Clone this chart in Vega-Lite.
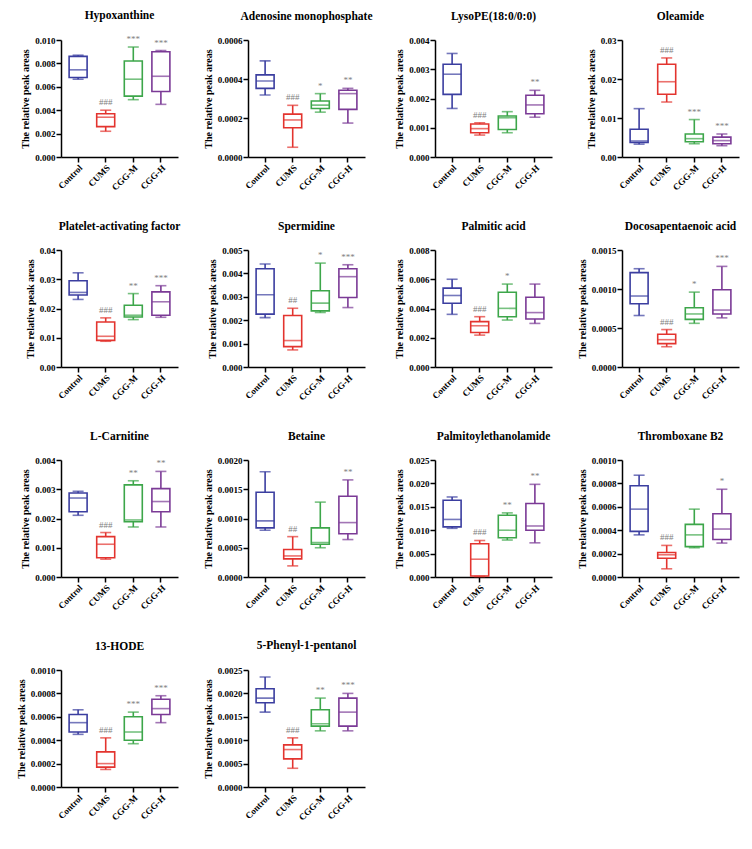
{
  "$schema": "https://vega.github.io/schema/vega-lite/v6.json",
  "padding": {"left": 16, "top": 9, "right": 5, "bottom": 5},
  "datasets": {
    "box": [
      {"m": "Hypoxanthine", "g": "Control", "min": 0.00665, "q1": 0.0068, "med": 0.00745, "q3": 0.0086, "max": 0.0087, "sig": ""},
      {"m": "Hypoxanthine", "g": "CUMS", "min": 0.0022, "q1": 0.0026, "med": 0.0034, "q3": 0.0037, "max": 0.004, "sig": "###"},
      {"m": "Hypoxanthine", "g": "CGG-M", "min": 0.0049, "q1": 0.0052, "med": 0.00665, "q3": 0.0082, "max": 0.0094, "sig": "***"},
      {"m": "Hypoxanthine", "g": "CGG-H", "min": 0.0045, "q1": 0.0056, "med": 0.0069, "q3": 0.009, "max": 0.0091, "sig": "***"},

      {"m": "Adenosine monophosphate", "g": "Control", "min": 0.000318, "q1": 0.000352, "med": 0.00039, "q3": 0.000421, "max": 0.000493, "sig": ""},
      {"m": "Adenosine monophosphate", "g": "CUMS", "min": 0.00005, "q1": 0.00015, "med": 0.00019, "q3": 0.00022, "max": 0.000265, "sig": "###"},
      {"m": "Adenosine monophosphate", "g": "CGG-M", "min": 0.00023, "q1": 0.000249, "med": 0.000266, "q3": 0.000287, "max": 0.000325, "sig": "*"},
      {"m": "Adenosine monophosphate", "g": "CGG-H", "min": 0.000174, "q1": 0.000244, "med": 0.000325, "q3": 0.000342, "max": 0.000352, "sig": "**"},

      {"m": "LysoPE(18:0/0:0)", "g": "Control", "min": 0.00166, "q1": 0.00214, "med": 0.00283, "q3": 0.00317, "max": 0.00354, "sig": ""},
      {"m": "LysoPE(18:0/0:0)", "g": "CUMS", "min": 0.00075, "q1": 0.00083, "med": 0.00097, "q3": 0.00113, "max": 0.00117, "sig": "###"},
      {"m": "LysoPE(18:0/0:0)", "g": "CGG-M", "min": 0.00083, "q1": 0.00094, "med": 0.00134, "q3": 0.0014, "max": 0.00155, "sig": ""},
      {"m": "LysoPE(18:0/0:0)", "g": "CGG-H", "min": 0.00136, "q1": 0.00148, "med": 0.00178, "q3": 0.00211, "max": 0.00228, "sig": "**"},

      {"m": "Oleamide", "g": "Control", "min": 0.0033, "q1": 0.0037, "med": 0.0041, "q3": 0.0071, "max": 0.0124, "sig": ""},
      {"m": "Oleamide", "g": "CUMS", "min": 0.0141, "q1": 0.0161, "med": 0.0193, "q3": 0.0238, "max": 0.0254, "sig": "###"},
      {"m": "Oleamide", "g": "CGG-M", "min": 0.0034, "q1": 0.0039, "med": 0.0047, "q3": 0.0059, "max": 0.0096, "sig": "***"},
      {"m": "Oleamide", "g": "CGG-H", "min": 0.0029, "q1": 0.0034, "med": 0.0042, "q3": 0.0051, "max": 0.0059, "sig": "***"},

      {"m": "Platelet-activating factor", "g": "Control", "min": 0.0231, "q1": 0.0246, "med": 0.0255, "q3": 0.0295, "max": 0.0322, "sig": ""},
      {"m": "Platelet-activating factor", "g": "CUMS", "min": 0.0088, "q1": 0.0091, "med": 0.0105, "q3": 0.0154, "max": 0.0168, "sig": "###"},
      {"m": "Platelet-activating factor", "g": "CGG-M", "min": 0.0162, "q1": 0.0171, "med": 0.0177, "q3": 0.0211, "max": 0.0251, "sig": "**"},
      {"m": "Platelet-activating factor", "g": "CGG-H", "min": 0.017, "q1": 0.0177, "med": 0.0223, "q3": 0.0257, "max": 0.0278, "sig": "***"},

      {"m": "Spermidine", "g": "Control", "min": 0.00211, "q1": 0.00226, "med": 0.00309, "q3": 0.0042, "max": 0.0044, "sig": ""},
      {"m": "Spermidine", "g": "CUMS", "min": 0.00073, "q1": 0.00087, "med": 0.00113, "q3": 0.0022, "max": 0.00251, "sig": "##"},
      {"m": "Spermidine", "g": "CGG-M", "min": 0.00233, "q1": 0.0024, "med": 0.00273, "q3": 0.00326, "max": 0.00444, "sig": "*"},
      {"m": "Spermidine", "g": "CGG-H", "min": 0.00254, "q1": 0.00297, "med": 0.00386, "q3": 0.0042, "max": 0.00437, "sig": "***"},

      {"m": "Palmitic acid", "g": "Control", "min": 0.0036, "q1": 0.00436, "med": 0.00489, "q3": 0.00539, "max": 0.006, "sig": ""},
      {"m": "Palmitic acid", "g": "CUMS", "min": 0.00218, "q1": 0.00236, "med": 0.00282, "q3": 0.0031, "max": 0.00344, "sig": "###"},
      {"m": "Palmitic acid", "g": "CGG-M", "min": 0.00321, "q1": 0.00344, "med": 0.00401, "q3": 0.00511, "max": 0.00567, "sig": "*"},
      {"m": "Palmitic acid", "g": "CGG-H", "min": 0.00298, "q1": 0.00328, "med": 0.00372, "q3": 0.00477, "max": 0.00567, "sig": ""},

      {"m": "Docosapentaenoic acid", "g": "Control", "min": 0.00066, "q1": 0.00081, "med": 0.00091, "q3": 0.00121, "max": 0.00126, "sig": ""},
      {"m": "Docosapentaenoic acid", "g": "CUMS", "min": 0.00026, "q1": 0.0003, "med": 0.00035, "q3": 0.00042, "max": 0.00048, "sig": "###"},
      {"m": "Docosapentaenoic acid", "g": "CGG-M", "min": 0.00056, "q1": 0.00061, "med": 0.00068, "q3": 0.00076, "max": 0.00096, "sig": "*"},
      {"m": "Docosapentaenoic acid", "g": "CGG-H", "min": 0.00063, "q1": 0.00068, "med": 0.00073, "q3": 0.00099, "max": 0.00129, "sig": "***"},

      {"m": "L-Carnitine", "g": "Control", "min": 0.00211, "q1": 0.00223, "med": 0.0027, "q3": 0.00287, "max": 0.00293, "sig": ""},
      {"m": "L-Carnitine", "g": "CUMS", "min": 0.00061, "q1": 0.00066, "med": 0.00112, "q3": 0.00138, "max": 0.00152, "sig": "###"},
      {"m": "L-Carnitine", "g": "CGG-M", "min": 0.00171, "q1": 0.00189, "med": 0.00195, "q3": 0.00315, "max": 0.00329, "sig": "**"},
      {"m": "L-Carnitine", "g": "CGG-H", "min": 0.00171, "q1": 0.00223, "med": 0.00258, "q3": 0.00302, "max": 0.00361, "sig": "**"},

      {"m": "Betaine", "g": "Control", "min": 0.0008, "q1": 0.00084, "med": 0.00096, "q3": 0.00145, "max": 0.0018, "sig": ""},
      {"m": "Betaine", "g": "CUMS", "min": 0.00019, "q1": 0.00031, "med": 0.00036, "q3": 0.00047, "max": 0.00069, "sig": "##"},
      {"m": "Betaine", "g": "CGG-M", "min": 0.0005, "q1": 0.00056, "med": 0.00059, "q3": 0.00084, "max": 0.00128, "sig": ""},
      {"m": "Betaine", "g": "CGG-H", "min": 0.00064, "q1": 0.00074, "med": 0.00093, "q3": 0.00138, "max": 0.00166, "sig": "**"},

      {"m": "Palmitoylethanolamide", "g": "Control", "min": 0.0104, "q1": 0.0107, "med": 0.0123, "q3": 0.0164, "max": 0.0171, "sig": ""},
      {"m": "Palmitoylethanolamide", "g": "CUMS", "min": 0.0001, "q1": 0.0002, "med": 0.0038, "q3": 0.0071, "max": 0.0078, "sig": "###"},
      {"m": "Palmitoylethanolamide", "g": "CGG-M", "min": 0.0079, "q1": 0.0084, "med": 0.01, "q3": 0.0132, "max": 0.0137, "sig": "**"},
      {"m": "Palmitoylethanolamide", "g": "CGG-H", "min": 0.0073, "q1": 0.01, "med": 0.0109, "q3": 0.0157, "max": 0.0198, "sig": "**"},

      {"m": "Thromboxane B2", "g": "Control", "min": 0.00036, "q1": 0.00039, "med": 0.00058, "q3": 0.00078, "max": 0.00087, "sig": ""},
      {"m": "Thromboxane B2", "g": "CUMS", "min": 0.00007, "q1": 0.00016, "med": 0.00019, "q3": 0.00021, "max": 0.00027, "sig": "###"},
      {"m": "Thromboxane B2", "g": "CGG-M", "min": 0.00025, "q1": 0.00026, "med": 0.00036, "q3": 0.00045, "max": 0.00058, "sig": ""},
      {"m": "Thromboxane B2", "g": "CGG-H", "min": 0.00029, "q1": 0.00032, "med": 0.00041, "q3": 0.00054, "max": 0.00075, "sig": "*"},

      {"m": "13-HODE", "g": "Control", "min": 0.00045, "q1": 0.00047, "med": 0.00055, "q3": 0.00062, "max": 0.00066, "sig": ""},
      {"m": "13-HODE", "g": "CUMS", "min": 0.00015, "q1": 0.00017, "med": 0.0002, "q3": 0.0003, "max": 0.00042, "sig": "###"},
      {"m": "13-HODE", "g": "CGG-M", "min": 0.00037, "q1": 0.0004, "med": 0.00047, "q3": 0.0006, "max": 0.00064, "sig": "***"},
      {"m": "13-HODE", "g": "CGG-H", "min": 0.00055, "q1": 0.00062, "med": 0.00067, "q3": 0.00075, "max": 0.00078, "sig": "***"},

      {"m": "5-Phenyl-1-pentanol", "g": "Control", "min": 0.0016, "q1": 0.0018, "med": 0.0019, "q3": 0.0021, "max": 0.00235, "sig": ""},
      {"m": "5-Phenyl-1-pentanol", "g": "CUMS", "min": 0.0004, "q1": 0.0006, "med": 0.0008, "q3": 0.0009, "max": 0.00105, "sig": "###"},
      {"m": "5-Phenyl-1-pentanol", "g": "CGG-M", "min": 0.0012, "q1": 0.0013, "med": 0.00135, "q3": 0.00165, "max": 0.0019, "sig": "**"},
      {"m": "5-Phenyl-1-pentanol", "g": "CGG-H", "min": 0.0012, "q1": 0.0013, "med": 0.0016, "q3": 0.0019, "max": 0.002, "sig": "***"}
    ]
  },
  "data": {"name": "box"},
  "columns": 4,
  "bounds": "flush",
  "spacing": {"row": 93, "column": 70},
  "config": {
    "font": "Liberation Serif",
    "view": {"stroke": null},
    "range": {"category": ["#7b3a96", "#3da64a", "#e3342f", "#3b3ea0"]},
    "axis": {"grid": false, "labelOverlap": false, "labelFlush": false, "domainColor": "black", "domainWidth": 1.5, "tickColor": "black", "tickWidth": 1.5, "tickSize": 5, "labelFont": "Liberation Serif", "labelFontWeight": "bold", "labelFontSize": 9, "labelColor": "black", "labelPadding": 1, "titleFont": "Liberation Serif", "titleFontWeight": "bold", "titleFontSize": 10, "titleColor": "black", "titlePadding": 4},
    "title": {"font": "Liberation Serif", "fontSize": 11.5, "fontWeight": "bold", "anchor": "middle", "offset": 14, "color": "black"}
  },
  "concat": [
    {"title": "Hypoxanthine", "width": 117, "height": 117,
     "transform": [{"filter": "datum.m === 'Hypoxanthine'"}],
     "encoding": {"x": {"field": "g", "type": "nominal", "sort": ["Control", "CUMS", "CGG-M", "CGG-H"], "scale": {"paddingInner": 0.5, "paddingOuter": 0.37}, "axis": {"title": null, "labelAngle": -45}}},
     "layer": [
      {"mark": {"type": "rule", "strokeWidth": 1.6}, "encoding": {"y": {"field": "min", "type": "quantitative", "scale": {"domain": [0, 0.01], "nice": false}, "axis": {"values": [0, 0.002, 0.004, 0.006, 0.008, 0.01], "tickCount": 20, "labelOverlap": false, "format": ".3f"}, "title": "The relative peak areas"}, "y2": {"field": "max"}, "color": {"field": "g", "type": "nominal", "legend": null}}},
      {"mark": {"type": "bar", "fill": "white", "strokeWidth": 1.6, "size": 18}, "encoding": {"y": {"field": "q1", "type": "quantitative", "title": "The relative peak areas"}, "y2": {"field": "q3"}, "stroke": {"field": "g", "type": "nominal", "legend": null}}},
      {"mark": {"type": "tick", "size": 18, "thickness": 1.6}, "encoding": {"y": {"field": "med", "type": "quantitative", "title": "The relative peak areas"}, "color": {"field": "g", "type": "nominal", "legend": null}}},
      {"mark": {"type": "tick", "size": 11, "thickness": 1.6}, "encoding": {"y": {"field": "min", "type": "quantitative", "title": "The relative peak areas"}, "color": {"field": "g", "type": "nominal", "legend": null}}},
      {"mark": {"type": "tick", "size": 11, "thickness": 1.6}, "encoding": {"y": {"field": "max", "type": "quantitative", "title": "The relative peak areas"}, "color": {"field": "g", "type": "nominal", "legend": null}}},
      {"mark": {"type": "text", "baseline": "bottom", "dy": -3, "fontSize": 9, "color": "#808080"}, "encoding": {"y": {"field": "max", "type": "quantitative", "title": "The relative peak areas"}, "text": {"field": "sig"}}}
     ]},
    {"title": "Adenosine monophosphate", "width": 117, "height": 117,
     "transform": [{"filter": "datum.m === 'Adenosine monophosphate'"}],
     "encoding": {"x": {"field": "g", "type": "nominal", "sort": ["Control", "CUMS", "CGG-M", "CGG-H"], "scale": {"paddingInner": 0.5, "paddingOuter": 0.37}, "axis": {"title": null, "labelAngle": -45}}},
     "layer": [
      {"mark": {"type": "rule", "strokeWidth": 1.6}, "encoding": {"y": {"field": "min", "type": "quantitative", "scale": {"domain": [0, 0.0006], "nice": false}, "axis": {"values": [0, 0.0002, 0.0004, 0.0006], "tickCount": 20, "labelOverlap": false, "format": ".4f"}, "title": "The relative peak areas"}, "y2": {"field": "max"}, "color": {"field": "g", "type": "nominal", "legend": null}}},
      {"mark": {"type": "bar", "fill": "white", "strokeWidth": 1.6, "size": 18}, "encoding": {"y": {"field": "q1", "type": "quantitative", "title": "The relative peak areas"}, "y2": {"field": "q3"}, "stroke": {"field": "g", "type": "nominal", "legend": null}}},
      {"mark": {"type": "tick", "size": 18, "thickness": 1.6}, "encoding": {"y": {"field": "med", "type": "quantitative", "title": "The relative peak areas"}, "color": {"field": "g", "type": "nominal", "legend": null}}},
      {"mark": {"type": "tick", "size": 11, "thickness": 1.6}, "encoding": {"y": {"field": "min", "type": "quantitative", "title": "The relative peak areas"}, "color": {"field": "g", "type": "nominal", "legend": null}}},
      {"mark": {"type": "tick", "size": 11, "thickness": 1.6}, "encoding": {"y": {"field": "max", "type": "quantitative", "title": "The relative peak areas"}, "color": {"field": "g", "type": "nominal", "legend": null}}},
      {"mark": {"type": "text", "baseline": "bottom", "dy": -3, "fontSize": 9, "color": "#808080"}, "encoding": {"y": {"field": "max", "type": "quantitative", "title": "The relative peak areas"}, "text": {"field": "sig"}}}
     ]},
    {"title": "LysoPE(18:0/0:0)", "width": 117, "height": 117,
     "transform": [{"filter": "datum.m === 'LysoPE(18:0/0:0)'"}],
     "encoding": {"x": {"field": "g", "type": "nominal", "sort": ["Control", "CUMS", "CGG-M", "CGG-H"], "scale": {"paddingInner": 0.5, "paddingOuter": 0.37}, "axis": {"title": null, "labelAngle": -45}}},
     "layer": [
      {"mark": {"type": "rule", "strokeWidth": 1.6}, "encoding": {"y": {"field": "min", "type": "quantitative", "scale": {"domain": [0, 0.004], "nice": false}, "axis": {"values": [0, 0.001, 0.002, 0.003, 0.004], "tickCount": 20, "labelOverlap": false, "format": ".3f"}, "title": "The relative peak areas"}, "y2": {"field": "max"}, "color": {"field": "g", "type": "nominal", "legend": null}}},
      {"mark": {"type": "bar", "fill": "white", "strokeWidth": 1.6, "size": 18}, "encoding": {"y": {"field": "q1", "type": "quantitative", "title": "The relative peak areas"}, "y2": {"field": "q3"}, "stroke": {"field": "g", "type": "nominal", "legend": null}}},
      {"mark": {"type": "tick", "size": 18, "thickness": 1.6}, "encoding": {"y": {"field": "med", "type": "quantitative", "title": "The relative peak areas"}, "color": {"field": "g", "type": "nominal", "legend": null}}},
      {"mark": {"type": "tick", "size": 11, "thickness": 1.6}, "encoding": {"y": {"field": "min", "type": "quantitative", "title": "The relative peak areas"}, "color": {"field": "g", "type": "nominal", "legend": null}}},
      {"mark": {"type": "tick", "size": 11, "thickness": 1.6}, "encoding": {"y": {"field": "max", "type": "quantitative", "title": "The relative peak areas"}, "color": {"field": "g", "type": "nominal", "legend": null}}},
      {"mark": {"type": "text", "baseline": "bottom", "dy": -3, "fontSize": 9, "color": "#808080"}, "encoding": {"y": {"field": "max", "type": "quantitative", "title": "The relative peak areas"}, "text": {"field": "sig"}}}
     ]},
    {"title": "Oleamide", "width": 117, "height": 117,
     "transform": [{"filter": "datum.m === 'Oleamide'"}],
     "encoding": {"x": {"field": "g", "type": "nominal", "sort": ["Control", "CUMS", "CGG-M", "CGG-H"], "scale": {"paddingInner": 0.5, "paddingOuter": 0.37}, "axis": {"title": null, "labelAngle": -45}}},
     "layer": [
      {"mark": {"type": "rule", "strokeWidth": 1.6}, "encoding": {"y": {"field": "min", "type": "quantitative", "scale": {"domain": [0, 0.03], "nice": false}, "axis": {"values": [0, 0.01, 0.02, 0.03], "tickCount": 20, "labelOverlap": false, "format": ".2f"}, "title": "The relative peak areas"}, "y2": {"field": "max"}, "color": {"field": "g", "type": "nominal", "legend": null}}},
      {"mark": {"type": "bar", "fill": "white", "strokeWidth": 1.6, "size": 18}, "encoding": {"y": {"field": "q1", "type": "quantitative", "title": "The relative peak areas"}, "y2": {"field": "q3"}, "stroke": {"field": "g", "type": "nominal", "legend": null}}},
      {"mark": {"type": "tick", "size": 18, "thickness": 1.6}, "encoding": {"y": {"field": "med", "type": "quantitative", "title": "The relative peak areas"}, "color": {"field": "g", "type": "nominal", "legend": null}}},
      {"mark": {"type": "tick", "size": 11, "thickness": 1.6}, "encoding": {"y": {"field": "min", "type": "quantitative", "title": "The relative peak areas"}, "color": {"field": "g", "type": "nominal", "legend": null}}},
      {"mark": {"type": "tick", "size": 11, "thickness": 1.6}, "encoding": {"y": {"field": "max", "type": "quantitative", "title": "The relative peak areas"}, "color": {"field": "g", "type": "nominal", "legend": null}}},
      {"mark": {"type": "text", "baseline": "bottom", "dy": -3, "fontSize": 9, "color": "#808080"}, "encoding": {"y": {"field": "max", "type": "quantitative", "title": "The relative peak areas"}, "text": {"field": "sig"}}}
     ]},
    {"title": "Platelet-activating factor", "width": 117, "height": 117,
     "transform": [{"filter": "datum.m === 'Platelet-activating factor'"}],
     "encoding": {"x": {"field": "g", "type": "nominal", "sort": ["Control", "CUMS", "CGG-M", "CGG-H"], "scale": {"paddingInner": 0.5, "paddingOuter": 0.37}, "axis": {"title": null, "labelAngle": -45}}},
     "layer": [
      {"mark": {"type": "rule", "strokeWidth": 1.6}, "encoding": {"y": {"field": "min", "type": "quantitative", "scale": {"domain": [0, 0.04], "nice": false}, "axis": {"values": [0, 0.01, 0.02, 0.03, 0.04], "tickCount": 20, "labelOverlap": false, "format": ".2f"}, "title": "The relative peak areas"}, "y2": {"field": "max"}, "color": {"field": "g", "type": "nominal", "legend": null}}},
      {"mark": {"type": "bar", "fill": "white", "strokeWidth": 1.6, "size": 18}, "encoding": {"y": {"field": "q1", "type": "quantitative", "title": "The relative peak areas"}, "y2": {"field": "q3"}, "stroke": {"field": "g", "type": "nominal", "legend": null}}},
      {"mark": {"type": "tick", "size": 18, "thickness": 1.6}, "encoding": {"y": {"field": "med", "type": "quantitative", "title": "The relative peak areas"}, "color": {"field": "g", "type": "nominal", "legend": null}}},
      {"mark": {"type": "tick", "size": 11, "thickness": 1.6}, "encoding": {"y": {"field": "min", "type": "quantitative", "title": "The relative peak areas"}, "color": {"field": "g", "type": "nominal", "legend": null}}},
      {"mark": {"type": "tick", "size": 11, "thickness": 1.6}, "encoding": {"y": {"field": "max", "type": "quantitative", "title": "The relative peak areas"}, "color": {"field": "g", "type": "nominal", "legend": null}}},
      {"mark": {"type": "text", "baseline": "bottom", "dy": -3, "fontSize": 9, "color": "#808080"}, "encoding": {"y": {"field": "max", "type": "quantitative", "title": "The relative peak areas"}, "text": {"field": "sig"}}}
     ]},
    {"title": "Spermidine", "width": 117, "height": 117,
     "transform": [{"filter": "datum.m === 'Spermidine'"}],
     "encoding": {"x": {"field": "g", "type": "nominal", "sort": ["Control", "CUMS", "CGG-M", "CGG-H"], "scale": {"paddingInner": 0.5, "paddingOuter": 0.37}, "axis": {"title": null, "labelAngle": -45}}},
     "layer": [
      {"mark": {"type": "rule", "strokeWidth": 1.6}, "encoding": {"y": {"field": "min", "type": "quantitative", "scale": {"domain": [0, 0.005], "nice": false}, "axis": {"values": [0, 0.001, 0.002, 0.003, 0.004, 0.005], "tickCount": 20, "labelOverlap": false, "format": ".3f"}, "title": "The relative peak areas"}, "y2": {"field": "max"}, "color": {"field": "g", "type": "nominal", "legend": null}}},
      {"mark": {"type": "bar", "fill": "white", "strokeWidth": 1.6, "size": 18}, "encoding": {"y": {"field": "q1", "type": "quantitative", "title": "The relative peak areas"}, "y2": {"field": "q3"}, "stroke": {"field": "g", "type": "nominal", "legend": null}}},
      {"mark": {"type": "tick", "size": 18, "thickness": 1.6}, "encoding": {"y": {"field": "med", "type": "quantitative", "title": "The relative peak areas"}, "color": {"field": "g", "type": "nominal", "legend": null}}},
      {"mark": {"type": "tick", "size": 11, "thickness": 1.6}, "encoding": {"y": {"field": "min", "type": "quantitative", "title": "The relative peak areas"}, "color": {"field": "g", "type": "nominal", "legend": null}}},
      {"mark": {"type": "tick", "size": 11, "thickness": 1.6}, "encoding": {"y": {"field": "max", "type": "quantitative", "title": "The relative peak areas"}, "color": {"field": "g", "type": "nominal", "legend": null}}},
      {"mark": {"type": "text", "baseline": "bottom", "dy": -3, "fontSize": 9, "color": "#808080"}, "encoding": {"y": {"field": "max", "type": "quantitative", "title": "The relative peak areas"}, "text": {"field": "sig"}}}
     ]},
    {"title": "Palmitic acid", "width": 117, "height": 117,
     "transform": [{"filter": "datum.m === 'Palmitic acid'"}],
     "encoding": {"x": {"field": "g", "type": "nominal", "sort": ["Control", "CUMS", "CGG-M", "CGG-H"], "scale": {"paddingInner": 0.5, "paddingOuter": 0.37}, "axis": {"title": null, "labelAngle": -45}}},
     "layer": [
      {"mark": {"type": "rule", "strokeWidth": 1.6}, "encoding": {"y": {"field": "min", "type": "quantitative", "scale": {"domain": [0, 0.008], "nice": false}, "axis": {"values": [0, 0.002, 0.004, 0.006, 0.008], "tickCount": 20, "labelOverlap": false, "format": ".3f"}, "title": "The relative peak areas"}, "y2": {"field": "max"}, "color": {"field": "g", "type": "nominal", "legend": null}}},
      {"mark": {"type": "bar", "fill": "white", "strokeWidth": 1.6, "size": 18}, "encoding": {"y": {"field": "q1", "type": "quantitative", "title": "The relative peak areas"}, "y2": {"field": "q3"}, "stroke": {"field": "g", "type": "nominal", "legend": null}}},
      {"mark": {"type": "tick", "size": 18, "thickness": 1.6}, "encoding": {"y": {"field": "med", "type": "quantitative", "title": "The relative peak areas"}, "color": {"field": "g", "type": "nominal", "legend": null}}},
      {"mark": {"type": "tick", "size": 11, "thickness": 1.6}, "encoding": {"y": {"field": "min", "type": "quantitative", "title": "The relative peak areas"}, "color": {"field": "g", "type": "nominal", "legend": null}}},
      {"mark": {"type": "tick", "size": 11, "thickness": 1.6}, "encoding": {"y": {"field": "max", "type": "quantitative", "title": "The relative peak areas"}, "color": {"field": "g", "type": "nominal", "legend": null}}},
      {"mark": {"type": "text", "baseline": "bottom", "dy": -3, "fontSize": 9, "color": "#808080"}, "encoding": {"y": {"field": "max", "type": "quantitative", "title": "The relative peak areas"}, "text": {"field": "sig"}}}
     ]},
    {"title": "Docosapentaenoic acid", "width": 117, "height": 117,
     "transform": [{"filter": "datum.m === 'Docosapentaenoic acid'"}],
     "encoding": {"x": {"field": "g", "type": "nominal", "sort": ["Control", "CUMS", "CGG-M", "CGG-H"], "scale": {"paddingInner": 0.5, "paddingOuter": 0.37}, "axis": {"title": null, "labelAngle": -45}}},
     "layer": [
      {"mark": {"type": "rule", "strokeWidth": 1.6}, "encoding": {"y": {"field": "min", "type": "quantitative", "scale": {"domain": [0, 0.0015], "nice": false}, "axis": {"values": [0, 0.0005, 0.001, 0.0015], "tickCount": 20, "labelOverlap": false, "format": ".4f"}, "title": "The relative peak areas"}, "y2": {"field": "max"}, "color": {"field": "g", "type": "nominal", "legend": null}}},
      {"mark": {"type": "bar", "fill": "white", "strokeWidth": 1.6, "size": 18}, "encoding": {"y": {"field": "q1", "type": "quantitative", "title": "The relative peak areas"}, "y2": {"field": "q3"}, "stroke": {"field": "g", "type": "nominal", "legend": null}}},
      {"mark": {"type": "tick", "size": 18, "thickness": 1.6}, "encoding": {"y": {"field": "med", "type": "quantitative", "title": "The relative peak areas"}, "color": {"field": "g", "type": "nominal", "legend": null}}},
      {"mark": {"type": "tick", "size": 11, "thickness": 1.6}, "encoding": {"y": {"field": "min", "type": "quantitative", "title": "The relative peak areas"}, "color": {"field": "g", "type": "nominal", "legend": null}}},
      {"mark": {"type": "tick", "size": 11, "thickness": 1.6}, "encoding": {"y": {"field": "max", "type": "quantitative", "title": "The relative peak areas"}, "color": {"field": "g", "type": "nominal", "legend": null}}},
      {"mark": {"type": "text", "baseline": "bottom", "dy": -3, "fontSize": 9, "color": "#808080"}, "encoding": {"y": {"field": "max", "type": "quantitative", "title": "The relative peak areas"}, "text": {"field": "sig"}}}
     ]},
    {"title": "L-Carnitine", "width": 117, "height": 117,
     "transform": [{"filter": "datum.m === 'L-Carnitine'"}],
     "encoding": {"x": {"field": "g", "type": "nominal", "sort": ["Control", "CUMS", "CGG-M", "CGG-H"], "scale": {"paddingInner": 0.5, "paddingOuter": 0.37}, "axis": {"title": null, "labelAngle": -45}}},
     "layer": [
      {"mark": {"type": "rule", "strokeWidth": 1.6}, "encoding": {"y": {"field": "min", "type": "quantitative", "scale": {"domain": [0, 0.004], "nice": false}, "axis": {"values": [0, 0.001, 0.002, 0.003, 0.004], "tickCount": 20, "labelOverlap": false, "format": ".3f"}, "title": "The relative peak areas"}, "y2": {"field": "max"}, "color": {"field": "g", "type": "nominal", "legend": null}}},
      {"mark": {"type": "bar", "fill": "white", "strokeWidth": 1.6, "size": 18}, "encoding": {"y": {"field": "q1", "type": "quantitative", "title": "The relative peak areas"}, "y2": {"field": "q3"}, "stroke": {"field": "g", "type": "nominal", "legend": null}}},
      {"mark": {"type": "tick", "size": 18, "thickness": 1.6}, "encoding": {"y": {"field": "med", "type": "quantitative", "title": "The relative peak areas"}, "color": {"field": "g", "type": "nominal", "legend": null}}},
      {"mark": {"type": "tick", "size": 11, "thickness": 1.6}, "encoding": {"y": {"field": "min", "type": "quantitative", "title": "The relative peak areas"}, "color": {"field": "g", "type": "nominal", "legend": null}}},
      {"mark": {"type": "tick", "size": 11, "thickness": 1.6}, "encoding": {"y": {"field": "max", "type": "quantitative", "title": "The relative peak areas"}, "color": {"field": "g", "type": "nominal", "legend": null}}},
      {"mark": {"type": "text", "baseline": "bottom", "dy": -3, "fontSize": 9, "color": "#808080"}, "encoding": {"y": {"field": "max", "type": "quantitative", "title": "The relative peak areas"}, "text": {"field": "sig"}}}
     ]},
    {"title": "Betaine", "width": 117, "height": 117,
     "transform": [{"filter": "datum.m === 'Betaine'"}],
     "encoding": {"x": {"field": "g", "type": "nominal", "sort": ["Control", "CUMS", "CGG-M", "CGG-H"], "scale": {"paddingInner": 0.5, "paddingOuter": 0.37}, "axis": {"title": null, "labelAngle": -45}}},
     "layer": [
      {"mark": {"type": "rule", "strokeWidth": 1.6}, "encoding": {"y": {"field": "min", "type": "quantitative", "scale": {"domain": [0, 0.002], "nice": false}, "axis": {"values": [0, 0.0005, 0.001, 0.0015, 0.002], "tickCount": 20, "labelOverlap": false, "format": ".4f"}, "title": "The relative peak areas"}, "y2": {"field": "max"}, "color": {"field": "g", "type": "nominal", "legend": null}}},
      {"mark": {"type": "bar", "fill": "white", "strokeWidth": 1.6, "size": 18}, "encoding": {"y": {"field": "q1", "type": "quantitative", "title": "The relative peak areas"}, "y2": {"field": "q3"}, "stroke": {"field": "g", "type": "nominal", "legend": null}}},
      {"mark": {"type": "tick", "size": 18, "thickness": 1.6}, "encoding": {"y": {"field": "med", "type": "quantitative", "title": "The relative peak areas"}, "color": {"field": "g", "type": "nominal", "legend": null}}},
      {"mark": {"type": "tick", "size": 11, "thickness": 1.6}, "encoding": {"y": {"field": "min", "type": "quantitative", "title": "The relative peak areas"}, "color": {"field": "g", "type": "nominal", "legend": null}}},
      {"mark": {"type": "tick", "size": 11, "thickness": 1.6}, "encoding": {"y": {"field": "max", "type": "quantitative", "title": "The relative peak areas"}, "color": {"field": "g", "type": "nominal", "legend": null}}},
      {"mark": {"type": "text", "baseline": "bottom", "dy": -3, "fontSize": 9, "color": "#808080"}, "encoding": {"y": {"field": "max", "type": "quantitative", "title": "The relative peak areas"}, "text": {"field": "sig"}}}
     ]},
    {"title": "Palmitoylethanolamide", "width": 117, "height": 117,
     "transform": [{"filter": "datum.m === 'Palmitoylethanolamide'"}],
     "encoding": {"x": {"field": "g", "type": "nominal", "sort": ["Control", "CUMS", "CGG-M", "CGG-H"], "scale": {"paddingInner": 0.5, "paddingOuter": 0.37}, "axis": {"title": null, "labelAngle": -45}}},
     "layer": [
      {"mark": {"type": "rule", "strokeWidth": 1.6}, "encoding": {"y": {"field": "min", "type": "quantitative", "scale": {"domain": [0, 0.025], "nice": false}, "axis": {"values": [0, 0.005, 0.01, 0.015, 0.02, 0.025], "tickCount": 20, "labelOverlap": false, "format": ".3f"}, "title": "The relative peak areas"}, "y2": {"field": "max"}, "color": {"field": "g", "type": "nominal", "legend": null}}},
      {"mark": {"type": "bar", "fill": "white", "strokeWidth": 1.6, "size": 18}, "encoding": {"y": {"field": "q1", "type": "quantitative", "title": "The relative peak areas"}, "y2": {"field": "q3"}, "stroke": {"field": "g", "type": "nominal", "legend": null}}},
      {"mark": {"type": "tick", "size": 18, "thickness": 1.6}, "encoding": {"y": {"field": "med", "type": "quantitative", "title": "The relative peak areas"}, "color": {"field": "g", "type": "nominal", "legend": null}}},
      {"mark": {"type": "tick", "size": 11, "thickness": 1.6}, "encoding": {"y": {"field": "min", "type": "quantitative", "title": "The relative peak areas"}, "color": {"field": "g", "type": "nominal", "legend": null}}},
      {"mark": {"type": "tick", "size": 11, "thickness": 1.6}, "encoding": {"y": {"field": "max", "type": "quantitative", "title": "The relative peak areas"}, "color": {"field": "g", "type": "nominal", "legend": null}}},
      {"mark": {"type": "text", "baseline": "bottom", "dy": -3, "fontSize": 9, "color": "#808080"}, "encoding": {"y": {"field": "max", "type": "quantitative", "title": "The relative peak areas"}, "text": {"field": "sig"}}}
     ]},
    {"title": "Thromboxane B2", "width": 117, "height": 117,
     "transform": [{"filter": "datum.m === 'Thromboxane B2'"}],
     "encoding": {"x": {"field": "g", "type": "nominal", "sort": ["Control", "CUMS", "CGG-M", "CGG-H"], "scale": {"paddingInner": 0.5, "paddingOuter": 0.37}, "axis": {"title": null, "labelAngle": -45}}},
     "layer": [
      {"mark": {"type": "rule", "strokeWidth": 1.6}, "encoding": {"y": {"field": "min", "type": "quantitative", "scale": {"domain": [0, 0.001], "nice": false}, "axis": {"values": [0, 0.0002, 0.0004, 0.0006, 0.0008, 0.001], "tickCount": 20, "labelOverlap": false, "format": ".4f"}, "title": "The relative peak areas"}, "y2": {"field": "max"}, "color": {"field": "g", "type": "nominal", "legend": null}}},
      {"mark": {"type": "bar", "fill": "white", "strokeWidth": 1.6, "size": 18}, "encoding": {"y": {"field": "q1", "type": "quantitative", "title": "The relative peak areas"}, "y2": {"field": "q3"}, "stroke": {"field": "g", "type": "nominal", "legend": null}}},
      {"mark": {"type": "tick", "size": 18, "thickness": 1.6}, "encoding": {"y": {"field": "med", "type": "quantitative", "title": "The relative peak areas"}, "color": {"field": "g", "type": "nominal", "legend": null}}},
      {"mark": {"type": "tick", "size": 11, "thickness": 1.6}, "encoding": {"y": {"field": "min", "type": "quantitative", "title": "The relative peak areas"}, "color": {"field": "g", "type": "nominal", "legend": null}}},
      {"mark": {"type": "tick", "size": 11, "thickness": 1.6}, "encoding": {"y": {"field": "max", "type": "quantitative", "title": "The relative peak areas"}, "color": {"field": "g", "type": "nominal", "legend": null}}},
      {"mark": {"type": "text", "baseline": "bottom", "dy": -3, "fontSize": 9, "color": "#808080"}, "encoding": {"y": {"field": "max", "type": "quantitative", "title": "The relative peak areas"}, "text": {"field": "sig"}}}
     ]},
    {"title": "13-HODE", "width": 117, "height": 117,
     "transform": [{"filter": "datum.m === '13-HODE'"}],
     "encoding": {"x": {"field": "g", "type": "nominal", "sort": ["Control", "CUMS", "CGG-M", "CGG-H"], "scale": {"paddingInner": 0.5, "paddingOuter": 0.37}, "axis": {"title": null, "labelAngle": -45}}},
     "layer": [
      {"mark": {"type": "rule", "strokeWidth": 1.6}, "encoding": {"y": {"field": "min", "type": "quantitative", "scale": {"domain": [0, 0.001], "nice": false}, "axis": {"values": [0, 0.0002, 0.0004, 0.0006, 0.0008, 0.001], "tickCount": 20, "labelOverlap": false, "format": ".4f"}, "title": "The relative peak areas"}, "y2": {"field": "max"}, "color": {"field": "g", "type": "nominal", "legend": null}}},
      {"mark": {"type": "bar", "fill": "white", "strokeWidth": 1.6, "size": 18}, "encoding": {"y": {"field": "q1", "type": "quantitative", "title": "The relative peak areas"}, "y2": {"field": "q3"}, "stroke": {"field": "g", "type": "nominal", "legend": null}}},
      {"mark": {"type": "tick", "size": 18, "thickness": 1.6}, "encoding": {"y": {"field": "med", "type": "quantitative", "title": "The relative peak areas"}, "color": {"field": "g", "type": "nominal", "legend": null}}},
      {"mark": {"type": "tick", "size": 11, "thickness": 1.6}, "encoding": {"y": {"field": "min", "type": "quantitative", "title": "The relative peak areas"}, "color": {"field": "g", "type": "nominal", "legend": null}}},
      {"mark": {"type": "tick", "size": 11, "thickness": 1.6}, "encoding": {"y": {"field": "max", "type": "quantitative", "title": "The relative peak areas"}, "color": {"field": "g", "type": "nominal", "legend": null}}},
      {"mark": {"type": "text", "baseline": "bottom", "dy": -3, "fontSize": 9, "color": "#808080"}, "encoding": {"y": {"field": "max", "type": "quantitative", "title": "The relative peak areas"}, "text": {"field": "sig"}}}
     ]},
    {"title": "5-Phenyl-1-pentanol", "width": 117, "height": 117,
     "transform": [{"filter": "datum.m === '5-Phenyl-1-pentanol'"}],
     "encoding": {"x": {"field": "g", "type": "nominal", "sort": ["Control", "CUMS", "CGG-M", "CGG-H"], "scale": {"paddingInner": 0.5, "paddingOuter": 0.37}, "axis": {"title": null, "labelAngle": -45}}},
     "layer": [
      {"mark": {"type": "rule", "strokeWidth": 1.6}, "encoding": {"y": {"field": "min", "type": "quantitative", "scale": {"domain": [0, 0.0025], "nice": false}, "axis": {"values": [0, 0.0005, 0.001, 0.0015, 0.002, 0.0025], "tickCount": 20, "labelOverlap": false, "format": ".4f"}, "title": "The relative peak areas"}, "y2": {"field": "max"}, "color": {"field": "g", "type": "nominal", "legend": null}}},
      {"mark": {"type": "bar", "fill": "white", "strokeWidth": 1.6, "size": 18}, "encoding": {"y": {"field": "q1", "type": "quantitative", "title": "The relative peak areas"}, "y2": {"field": "q3"}, "stroke": {"field": "g", "type": "nominal", "legend": null}}},
      {"mark": {"type": "tick", "size": 18, "thickness": 1.6}, "encoding": {"y": {"field": "med", "type": "quantitative", "title": "The relative peak areas"}, "color": {"field": "g", "type": "nominal", "legend": null}}},
      {"mark": {"type": "tick", "size": 11, "thickness": 1.6}, "encoding": {"y": {"field": "min", "type": "quantitative", "title": "The relative peak areas"}, "color": {"field": "g", "type": "nominal", "legend": null}}},
      {"mark": {"type": "tick", "size": 11, "thickness": 1.6}, "encoding": {"y": {"field": "max", "type": "quantitative", "title": "The relative peak areas"}, "color": {"field": "g", "type": "nominal", "legend": null}}},
      {"mark": {"type": "text", "baseline": "bottom", "dy": -3, "fontSize": 9, "color": "#808080"}, "encoding": {"y": {"field": "max", "type": "quantitative", "title": "The relative peak areas"}, "text": {"field": "sig"}}}
     ]}
  ]
}
